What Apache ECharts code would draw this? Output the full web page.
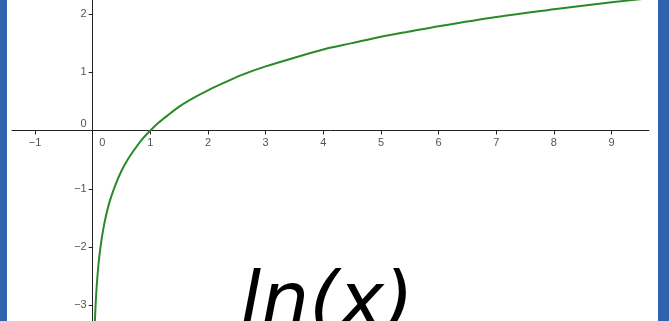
<!DOCTYPE html>
<html>
<head>
<meta charset="utf-8">
<script src="https://cdn.jsdelivr.net/npm/echarts@6/dist/echarts.min.js"></script>
<style>
html, body { margin: 0; padding: 0; background: #fff; }
#chart { width: 669px; height: 321px; }
</style>
</head>
<body>
<div id="chart"></div>
<script>
// points
var xs = [0.038, 0.05, 0.07, 0.1, 0.13, 0.17, 0.22, 0.3, 0.4, 0.5, 0.6, 0.7, 0.85, 1, 1.15, 1.3, 1.5, 1.75, 2, 2.3, 2.6, 3, 3.5, 4, 4.5, 5, 5.5, 6, 7, 8, 9, 9.65];
var ys = [-3.27, -3.0, -2.66, -2.3, -2.04, -1.77, -1.51, -1.2, -0.92, -0.69, -0.51, -0.36, -0.16, 0, 0.14, 0.26, 0.41, 0.56, 0.69, 0.83, 0.96, 1.1, 1.25, 1.39, 1.5, 1.61, 1.7, 1.79, 1.95, 2.08, 2.2, 2.27];
var xTicks = [-1, 0, 1, 2, 3, 4, 5, 6, 7, 8, 9];
var yTicks = [-3, -2, -1, 0, 1, 2];
var title = 'ln(x)';

var pts = xs.map(function (x, i) { return [x, ys[i]]; });

function fmt(v) {
    if (v === 0) return '{o|0}';
    return String(v).replace('-', '\u2212');
}

var chart = echarts.init(document.getElementById('chart'), null, { renderer: 'canvas' });
chart.setOption({
    animation: false,
    grid: { left: 12, right: 20, top: 0, bottom: 0, containLabel: false, outerBoundsMode: 'none' },
    xAxis: {
        type: 'value',
        position: 'bottom',
        offset: -190.5,   // puts the axis at y = 0
        min: -1.40,
        max: 9.65,
        splitLine: { show: false },
        axisLine: { onZero: false, lineStyle: { color: '#222', width: 1 } },
        axisTick: { show: true, length: 4, customValues: xTicks, lineStyle: { color: '#222' } },
        axisLabel: {
            customValues: xTicks,
            margin: 7,
            color: '#555',
            fontSize: 11,
            fontFamily: 'Liberation Sans',
            formatter: fmt,
            rich: { o: { padding: [0, 0, 0, 19], color: '#555', fontSize: 11, fontFamily: 'Liberation Sans' } }
        }
    },
    yAxis: {
        type: 'value',
        position: 'left',
        offset: -80.7,    // puts the axis at x = 0
        min: -3.27,
        max: 2.24,
        splitLine: { show: false },
        axisLine: { onZero: false, lineStyle: { color: '#222', width: 1 } },
        axisTick: { show: true, length: 4, customValues: yTicks, lineStyle: { color: '#222' } },
        axisLabel: {
            customValues: yTicks,
            margin: 6,
            color: '#555',
            fontSize: 11,
            fontFamily: 'Liberation Sans',
            formatter: fmt,
            rich: { o: { padding: [0, 0, 13, 0], color: '#555', fontSize: 11, fontFamily: 'Liberation Sans' } }
        }
    },
    series: [{
        type: 'line',
        data: pts,
        smooth: 0.3,
        showSymbol: false,
        lineStyle: { color: '#2a8a2a', width: 2 }
    }],
    graphic: [
        { type: 'rect', left: 0, top: 0, shape: { width: 7, height: 321 }, style: { fill: '#3063ae' }, z: 100 },
        { type: 'rect', left: 658, top: 0, shape: { width: 11, height: 321 }, style: { fill: '#3063ae' }, z: 100 },
        {
            type: 'text',
            left: 240,
            top: 268,
            z: 100,
            style: {
                text: title,
                font: 'italic 76px "DejaVu Sans"',
                fill: '#000'
            }
        }
    ]
});
</script>
</body>
</html>
